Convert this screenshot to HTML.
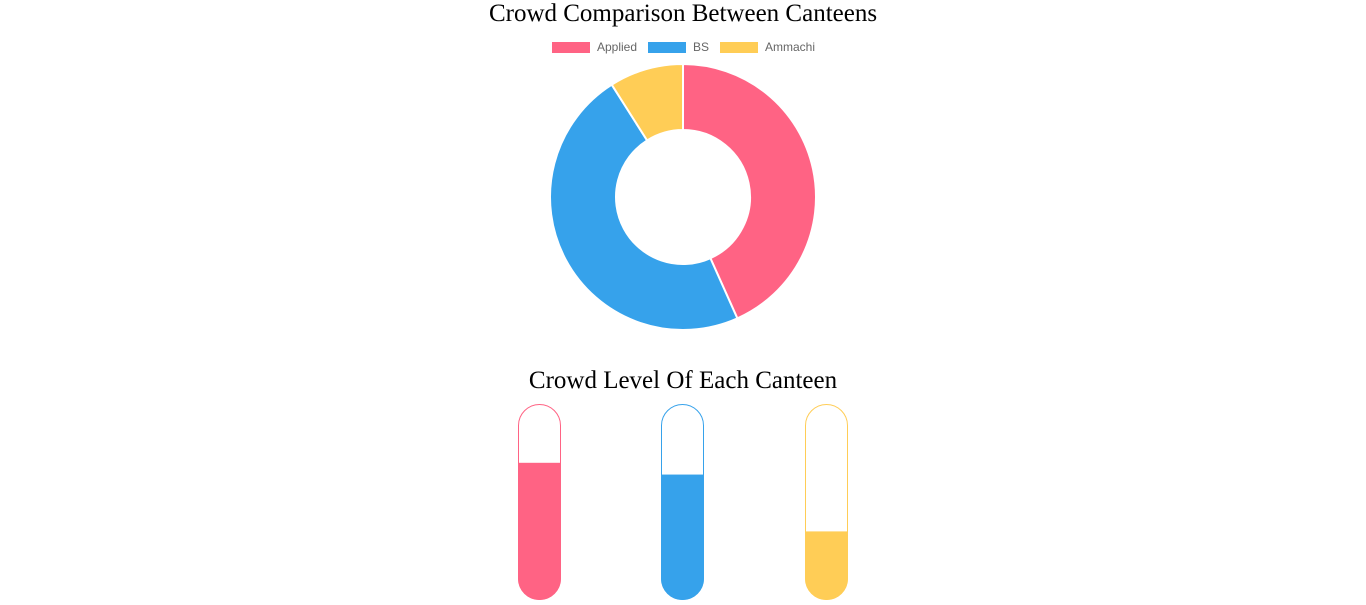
<!DOCTYPE html>
<html><head><meta charset="utf-8"><style>
html,body{margin:0;padding:0;background:#fff;width:1366px;height:605px;overflow:hidden}
svg{display:block}
</style></head><body>
<svg id="chart" width="1366" height="605">
<text x="683" y="21" text-anchor="middle" font-family="Liberation Serif, serif" font-size="25" fill="#000">Crowd Comparison Between Canteens</text>
<g id="legend"></g>
<g id="donut"></g>
<text x="683" y="388" text-anchor="middle" font-family="Liberation Serif, serif" font-size="25" fill="#000">Crowd Level Of Each Canteen</text>
<g id="tubes"></g>
</svg>
<script>
const categories = ["Applied", "BS", "Ammachi"];
const shareValues = [43.3, 47.7, 9.0];
const levelValues = [70, 64, 35];
const colors = ["#ff6384", "#36a2eb", "#ffcd56"];

const NS = "http://www.w3.org/2000/svg";
function mk(tag, attrs, parent){const e=document.createElementNS(NS,tag);for(const k in attrs)e.setAttribute(k,attrs[k]);parent.appendChild(e);return e;}

// legend
const legend=document.getElementById('legend');
const legX=[552,648,720];
categories.forEach((c,i)=>{
  const g=mk('g',{},legend);
  
  
  mk('rect',{x:legX[i],y:42,width:38,height:11,fill:colors[i]},g);
  const t=mk('text',{x:legX[i]+45,y:51,'font-family':'Liberation Sans, sans-serif','font-size':12,fill:'#666'},g);
  t.textContent=c;
});

// donut
const donut=document.getElementById('donut');
const cx=683,cy=197,R=133,r=67;
const total=shareValues.reduce((a,b)=>a+b,0);
let a0=0;
function pt(rad,ang){return [cx+rad*Math.sin(ang), cy-rad*Math.cos(ang)];}
shareValues.forEach((v,i)=>{
  const a1=a0+v/total*2*Math.PI;
  const large=(a1-a0)>Math.PI?1:0;
  const [x0,y0]=pt(R,a0),[x1,y1]=pt(R,a1),[x2,y2]=pt(r,a1),[x3,y3]=pt(r,a0);
  const p=mk('path',{d:`M${x0},${y0}A${R},${R} 0 ${large} 1 ${x1},${y1}L${x2},${y2}A${r},${r} 0 ${large} 0 ${x3},${y3}Z`,fill:colors[i],stroke:'#fff','stroke-width':2},donut);
  
  
  a0=a1;
});

// tubes
const tubes=document.getElementById('tubes');
const tubeX=[518,661,805],tw=43,tubeTop=404,tubeBottom=600,th=tubeBottom-tubeTop;
function yScale(v){return tubeBottom-v/100*th;}
levelValues.forEach((v,i)=>{
  const g=mk('g',{},tubes);
  
  
  const cp=mk('clipPath',{id:'cp'+i},g);
  mk('rect',{x:tubeX[i],y:tubeTop,width:tw,height:th,rx:21.5,ry:21.5},cp);
  const f=mk('rect',{x:tubeX[i],y:yScale(v),width:tw,height:tubeBottom-yScale(v),fill:colors[i],'clip-path':`url(#cp${i})`},g);
  
  
  mk('rect',{x:tubeX[i]+0.5,y:tubeTop+0.5,width:tw-1,height:th-1,rx:21,ry:21,fill:'none',stroke:colors[i],'stroke-width':1},g);
});
</script>
</body></html>
